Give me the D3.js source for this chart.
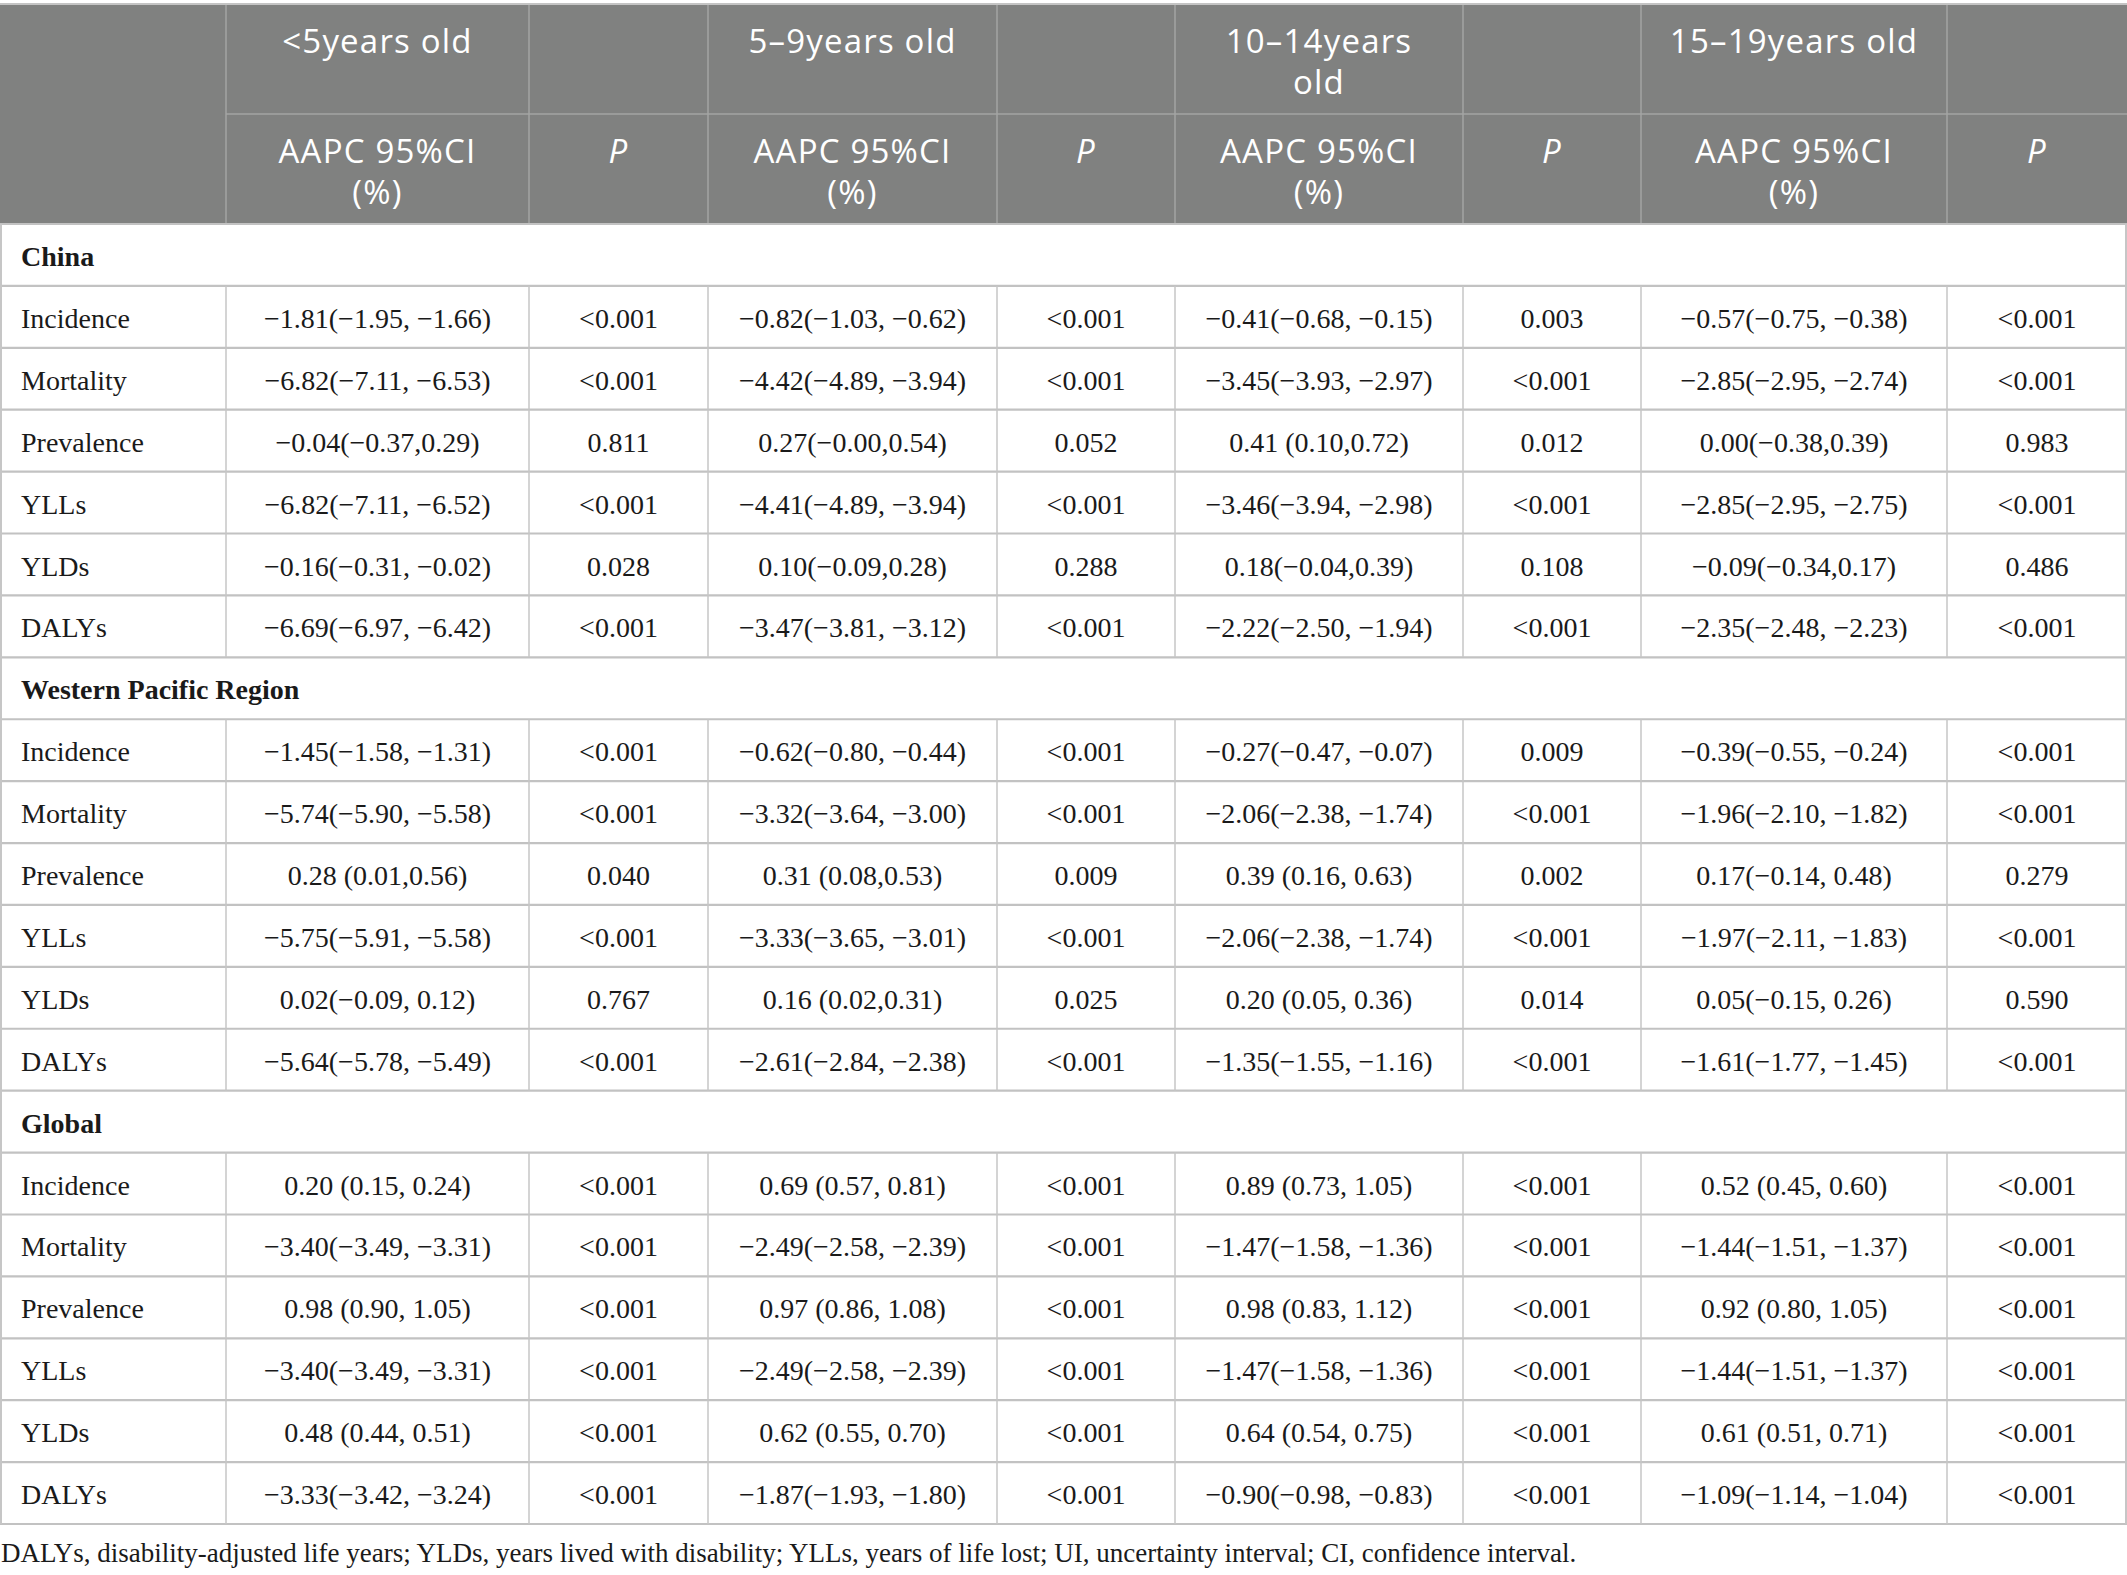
<!DOCTYPE html>
<html>
<head>
<meta charset="utf-8">
<script src="https://cdn.jsdelivr.net/npm/d3@7"></script>
<style>
  html, body { margin: 0; padding: 0; background: #fff; }
  svg { display: block; }
</style>
</head>
<body>
<div id="chart"></div>
<script>
// ---------- DATA ----------
const groups = ["China", "Western Pacific Region", "Global"];
const measures = ["Incidence", "Mortality", "Prevalence", "YLLs", "YLDs", "DALYs"];
const ageGroupLines = [["<5years old"], ["5–9years old"], ["10–14years", "old"], ["15–19years old"]];
const aapcHeaderLines = ["AAPC 95%CI", "(%)"];
const pHeader = "P";

const chinaAAPC = [
  ["−1.81(−1.95, −1.66)", "−0.82(−1.03, −0.62)", "−0.41(−0.68, −0.15)", "−0.57(−0.75, −0.38)"],
  ["−6.82(−7.11, −6.53)", "−4.42(−4.89, −3.94)", "−3.45(−3.93, −2.97)", "−2.85(−2.95, −2.74)"],
  ["−0.04(−0.37,0.29)", "0.27(−0.00,0.54)", "0.41 (0.10,0.72)", "0.00(−0.38,0.39)"],
  ["−6.82(−7.11, −6.52)", "−4.41(−4.89, −3.94)", "−3.46(−3.94, −2.98)", "−2.85(−2.95, −2.75)"],
  ["−0.16(−0.31, −0.02)", "0.10(−0.09,0.28)", "0.18(−0.04,0.39)", "−0.09(−0.34,0.17)"],
  ["−6.69(−6.97, −6.42)", "−3.47(−3.81, −3.12)", "−2.22(−2.50, −1.94)", "−2.35(−2.48, −2.23)"]
];
const chinaP = [
  ["<0.001", "<0.001", "0.003", "<0.001"],
  ["<0.001", "<0.001", "<0.001", "<0.001"],
  ["0.811", "0.052", "0.012", "0.983"],
  ["<0.001", "<0.001", "<0.001", "<0.001"],
  ["0.028", "0.288", "0.108", "0.486"],
  ["<0.001", "<0.001", "<0.001", "<0.001"]
];
const wprAAPC = [
  ["−1.45(−1.58, −1.31)", "−0.62(−0.80, −0.44)", "−0.27(−0.47, −0.07)", "−0.39(−0.55, −0.24)"],
  ["−5.74(−5.90, −5.58)", "−3.32(−3.64, −3.00)", "−2.06(−2.38, −1.74)", "−1.96(−2.10, −1.82)"],
  ["0.28 (0.01,0.56)", "0.31 (0.08,0.53)", "0.39 (0.16, 0.63)", "0.17(−0.14, 0.48)"],
  ["−5.75(−5.91, −5.58)", "−3.33(−3.65, −3.01)", "−2.06(−2.38, −1.74)", "−1.97(−2.11, −1.83)"],
  ["0.02(−0.09, 0.12)", "0.16 (0.02,0.31)", "0.20 (0.05, 0.36)", "0.05(−0.15, 0.26)"],
  ["−5.64(−5.78, −5.49)", "−2.61(−2.84, −2.38)", "−1.35(−1.55, −1.16)", "−1.61(−1.77, −1.45)"]
];
const wprP = [
  ["<0.001", "<0.001", "0.009", "<0.001"],
  ["<0.001", "<0.001", "<0.001", "<0.001"],
  ["0.040", "0.009", "0.002", "0.279"],
  ["<0.001", "<0.001", "<0.001", "<0.001"],
  ["0.767", "0.025", "0.014", "0.590"],
  ["<0.001", "<0.001", "<0.001", "<0.001"]
];
const globalAAPC = [
  ["0.20 (0.15, 0.24)", "0.69 (0.57, 0.81)", "0.89 (0.73, 1.05)", "0.52 (0.45, 0.60)"],
  ["−3.40(−3.49, −3.31)", "−2.49(−2.58, −2.39)", "−1.47(−1.58, −1.36)", "−1.44(−1.51, −1.37)"],
  ["0.98 (0.90, 1.05)", "0.97 (0.86, 1.08)", "0.98 (0.83, 1.12)", "0.92 (0.80, 1.05)"],
  ["−3.40(−3.49, −3.31)", "−2.49(−2.58, −2.39)", "−1.47(−1.58, −1.36)", "−1.44(−1.51, −1.37)"],
  ["0.48 (0.44, 0.51)", "0.62 (0.55, 0.70)", "0.64 (0.54, 0.75)", "0.61 (0.51, 0.71)"],
  ["−3.33(−3.42, −3.24)", "−1.87(−1.93, −1.80)", "−0.90(−0.98, −0.83)", "−1.09(−1.14, −1.04)"]
];
const globalP = [
  ["<0.001", "<0.001", "<0.001", "<0.001"],
  ["<0.001", "<0.001", "<0.001", "<0.001"],
  ["<0.001", "<0.001", "<0.001", "<0.001"],
  ["<0.001", "<0.001", "<0.001", "<0.001"],
  ["<0.001", "<0.001", "<0.001", "<0.001"],
  ["<0.001", "<0.001", "<0.001", "<0.001"]
];
const footnote = "DALYs, disability-adjusted life years; YLDs, years lived with disability; YLLs, years of life lost; UI, uncertainty interval; CI, confidence interval.";

// ---------- LAYOUT ----------
const W = 2127, H = 1575;
const colEdges = [0, 226, 529, 708, 997, 1175, 1463, 1641, 1947, 2127];
const headerTop = 4, headerMid = 114, headerBottom = 224, tableBottom = 1524;
const bodyFont = "'Liberation Serif', 'Times New Roman', serif";
const headFont = "'Open Sans', 'Noto Sans', sans-serif";

const groupData = [
  { name: groups[0], aapc: chinaAAPC, p: chinaP },
  { name: groups[1], aapc: wprAAPC, p: wprP },
  { name: groups[2], aapc: globalAAPC, p: globalP }
];

// Flatten rows
const rows = [];
groupData.forEach(g => {
  rows.push({ type: "group", label: g.name });
  measures.forEach((m, mi) => {
    const cells = [];
    for (let a = 0; a < 4; a++) { cells.push(g.aapc[mi][a]); cells.push(g.p[mi][a]); }
    rows.push({ type: "data", label: m, cells });
  });
});

const y = d3.scaleLinear().domain([0, rows.length]).range([headerBottom, tableBottom]);
const colIdx = d3.range(colEdges.length - 1);
const xLeft = d3.scaleOrdinal().domain(colIdx).range(colEdges.slice(0, -1));
const xRight = d3.scaleOrdinal().domain(colIdx).range(colEdges.slice(1));
const xMid = i => (xLeft(i) + xRight(i)) / 2;

const svg = d3.select("#chart").append("svg")
  .attr("width", W).attr("height", H)
  .attr("viewBox", `0 0 ${W} ${H}`);

svg.append("rect").attr("width", W).attr("height", H).attr("fill", "#fff");

// ---------- HEADER ----------
const headerG = svg.append("g");
headerG.append("rect")
  .attr("x", 0).attr("y", headerTop)
  .attr("width", W).attr("height", headerBottom - headerTop)
  .attr("fill", "#808180");

// header vertical lines
headerG.selectAll("line.hv")
  .data(colEdges.slice(1, -1))
  .join("line")
  .attr("x1", d => d).attr("x2", d => d)
  .attr("y1", headerTop).attr("y2", headerBottom)
  .attr("stroke", "#a3a4a3").attr("stroke-width", 1.5);

// header mid line (not across stub column)
headerG.append("line")
  .attr("x1", colEdges[1]).attr("x2", W)
  .attr("y1", headerMid).attr("y2", headerMid)
  .attr("stroke", "#a3a4a3").attr("stroke-width", 1.5);

// top border
headerG.append("line")
  .attr("x1", 0).attr("x2", W).attr("y1", headerTop).attr("y2", headerTop)
  .attr("stroke", "#c4c4c4").attr("stroke-width", 2);

const headText = (g, x, yy, txt, italic) => g.append("text")
  .attr("x", x).attr("y", yy)
  .attr("text-anchor", "middle")
  .attr("font-family", headFont)
  .attr("font-size", 33)
  .attr("font-weight", 400)
  .attr("letter-spacing", "1.2px")
  .attr("font-style", italic ? "italic" : "normal")
  .attr("fill", "#ffffff")
  .text(txt);

const row1Base = [53, 94];
const row2Base = [163, 204];
ageGroupLines.forEach((lines, a) => {
  const ci = 1 + a * 2;
  lines.forEach((ln, li) => headText(headerG, xMid(ci), row1Base[li], ln, false));
  aapcHeaderLines.forEach((ln, li) => headText(headerG, xMid(ci), row2Base[li], ln, false));
  headText(headerG, xMid(ci + 1), row2Base[0], pHeader, true);
});

// ---------- BODY ----------
const bodyG = svg.append("g");

// horizontal lines
bodyG.selectAll("line.h")
  .data(d3.range(rows.length + 1))
  .join("line")
  .attr("x1", 0).attr("x2", W)
  .attr("y1", d => y(d)).attr("y2", d => y(d))
  .attr("stroke", "#c2c2c2").attr("stroke-width", 2.2);

// vertical lines for data rows
const vSegs = [];
rows.forEach((r, i) => {
  if (r.type === "data") colEdges.slice(1, -1).forEach(x => vSegs.push({ x, i }));
});
bodyG.selectAll("line.v")
  .data(vSegs)
  .join("line")
  .attr("x1", d => d.x).attr("x2", d => d.x)
  .attr("y1", d => y(d.i)).attr("y2", d => y(d.i + 1))
  .attr("stroke", "#c6c6c6").attr("stroke-width", 1.5);

// outer left/right borders
[1, W - 1].forEach(x => bodyG.append("line")
  .attr("x1", x).attr("x2", x).attr("y1", headerBottom).attr("y2", tableBottom)
  .attr("stroke", "#c6c6c6").attr("stroke-width", 2));

// text
rows.forEach((r, i) => {
  const base = y(i) + 42;
  bodyG.append("text")
    .attr("x", 21).attr("y", base)
    .attr("font-family", bodyFont)
    .attr("font-size", 28)
    .attr("font-weight", r.type === "group" ? "bold" : "normal")
    .attr("fill", "#1a1a1a")
    .text(r.label);
  if (r.type === "data") {
    bodyG.selectAll(null)
      .data(r.cells)
      .join("text")
      .attr("x", (d, k) => xMid(k + 1))
      .attr("y", base)
      .attr("text-anchor", "middle")
      .attr("font-family", bodyFont)
      .attr("font-size", 28)
      .attr("fill", "#1a1a1a")
      .text(d => d);
  }
});

// footnote
svg.append("text")
  .attr("x", 1).attr("y", 1562)
  .attr("font-family", bodyFont)
  .attr("font-size", 27)
  .attr("fill", "#1a1a1a")
  .text(footnote);
</script>
</body>
</html>
